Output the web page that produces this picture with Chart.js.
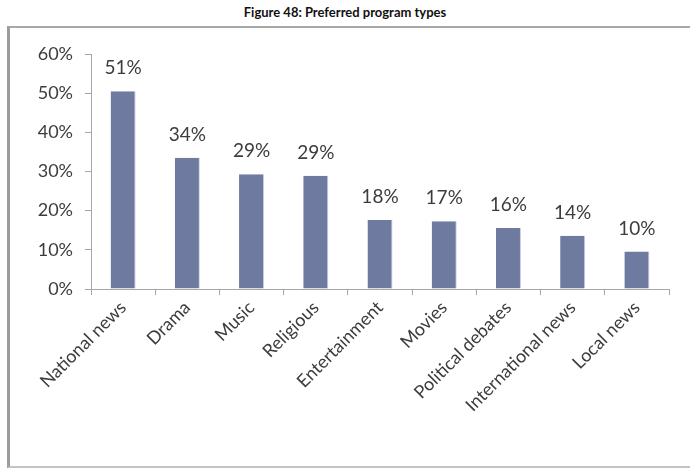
<!DOCTYPE html>
<html>
<head>
<meta charset="utf-8">
<script src="https://cdn.jsdelivr.net/npm/chart.js@4/dist/chart.umd.min.js"></script>
<style>
  html, body { margin: 0; padding: 0; background: #fff; width: 690px; height: 468px; overflow: hidden; }
  #title { position: absolute; left: 0; top: 4px; width: 690px; text-align: center;
           font-family: Lato, "Open Sans", sans-serif; font-weight: bold; font-size: 13px; color: #111; }
  #frame { position: absolute; left: 7px; top: 26px; width: 690px; height: 438px;
           border-left: 3px solid #9c9c9c; border-top: 2px solid #a8a8a8; border-bottom: 2px solid #c4c4c4; }
  #wrap { position: absolute; left: 10px; top: 28px; width: 680px; height: 437px; }
</style>
</head>
<body>
<div id="title">Figure 48: Preferred program types</div>
<div id="frame"></div>
<div id="wrap"><canvas id="c" width="680" height="437"></canvas></div>
<script>
const categories = ["National news", "Drama", "Music", "Religious", "Entertainment", "Movies", "Political debates", "International news", "Local news"];
const values = [50.5, 33.5, 29.3, 28.9, 17.6, 17.3, 15.6, 13.6, 9.6];
const valueLabels = ["51%", "34%", "29%", "29%", "18%", "17%", "16%", "14%", "10%"];
const yTicks = [0, 10, 20, 30, 40, 50, 60];

const FONT = 'Lato, "Open Sans", sans-serif';
const TEXT = '#3c3c3c';
const AXIS = '#a6a6a6';

const labelPlugin = {
  id: 'barLabels',
  afterDatasetsDraw(chart) {
    const ctx = chart.ctx;
    const meta = chart.getDatasetMeta(0);
    ctx.save();
    ctx.font = '19px ' + FONT;
    ctx.fillStyle = TEXT;
    ctx.textAlign = 'center';
    ctx.textBaseline = 'middle';
    meta.data.forEach((bar, i) => {
      ctx.fillText(valueLabels[i], bar.x, bar.y - 23);
    });
    ctx.restore();
  }
};

new Chart(document.getElementById('c'), {
  type: 'bar',
  data: {
    labels: categories,
    datasets: [{
      data: values,
      backgroundColor: '#6f7aa1',
      borderColor: '#c9cde0',
      borderWidth: {right: 1, left: 0, top: 0, bottom: 0},
      categoryPercentage: 1.0,
      barPercentage: 0.39
    }]
  },
  options: {
    responsive: false,
    animation: false,
    layout: { padding: { top: 26, right: 21, left: 0, bottom: 0 } },
    plugins: { legend: { display: false }, tooltip: { enabled: false }, title: { display: false } },
    scales: {
      x: {
        offset: true,
        grid: { offset: true, drawOnChartArea: false, drawTicks: true, tickLength: 6, color: AXIS },
        border: { display: true, color: AXIS, width: 1 },
        ticks: { minRotation: 45, maxRotation: 45, autoSkip: false, color: TEXT, padding: 2,
                 font: { family: FONT, size: 18 } },
        afterFit(s) { s.height = 176; }
      },
      y: {
        min: 0, max: 60,
        afterBuildTicks(s) { s.ticks = yTicks.map(v => ({ value: v })); },
        grid: { drawOnChartArea: false, drawTicks: true, tickLength: 6, color: AXIS },
        border: { display: true, color: AXIS, width: 1 },
        ticks: { color: TEXT, padding: 12, font: { family: FONT, size: 18 },
                 callback: v => v + '%' },
        afterFit(s) { s.width = 81; }
      }
    }
  },
  plugins: [labelPlugin]
});
</script>
</body>
</html>
